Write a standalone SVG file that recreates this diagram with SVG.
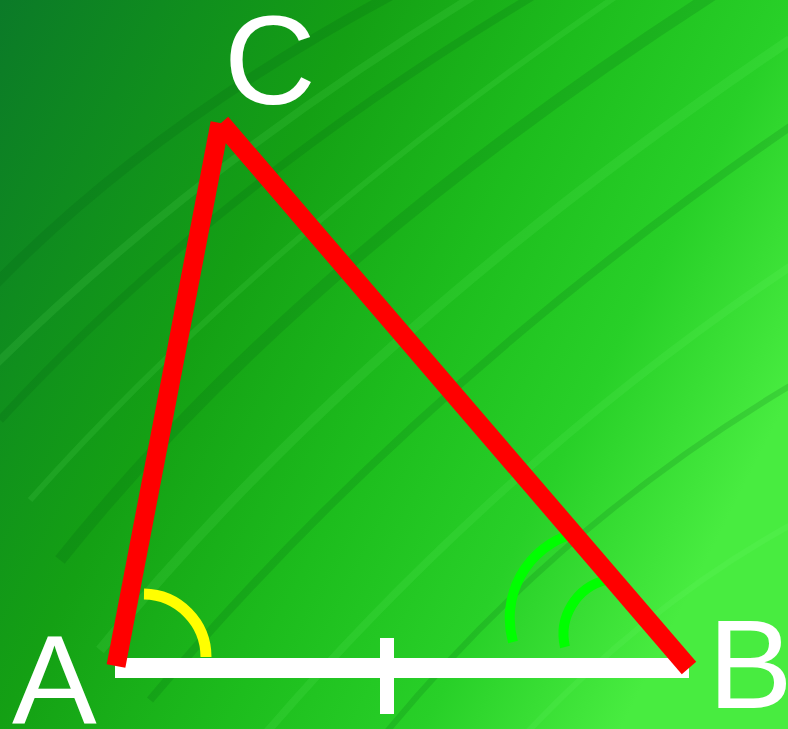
<svg xmlns="http://www.w3.org/2000/svg" width="788" height="729" viewBox="0 0 788 729">
  <defs>
    <linearGradient id="bg" x1="0" y1="0" x2="788" y2="400" gradientUnits="userSpaceOnUse">
      <stop offset="0" stop-color="#0b7a28"/>
      <stop offset="0.37" stop-color="#14a014"/>
      <stop offset="0.6" stop-color="#1dbd1d"/>
      <stop offset="0.8" stop-color="#28d028"/>
      <stop offset="1" stop-color="#48ec40"/>
    </linearGradient>
    <style>
      .streak-d { fill: none; stroke: #005a10; stroke-opacity: 0.16; }
      .streak-l { fill: none; stroke: #80ff80; stroke-opacity: 0.11; }
      .side { stroke: #ff0000; stroke-width: 19; stroke-linecap: butt; fill: none; }
      .base { fill: #ffffff; }
      .angA { fill: none; stroke: #ffff00; stroke-width: 11; }
      .angB { fill: none; stroke: #00ff00; stroke-width: 10; }
      .lbl { font-family: "Liberation Sans", Arial, sans-serif; font-size: 127px; fill: #ffffff; }
    </style>
  </defs>

  <rect x="0" y="0" width="788" height="729" fill="url(#bg)"/>
  <g id="texture">
    <path class="streak-d" stroke-width="10" d="M-20,300 Q150,120 420,-20"/>
    <path class="streak-d" stroke-width="8" d="M0,420 Q220,180 560,-20"/>
    <path class="streak-d" stroke-width="12" d="M60,560 Q300,260 720,-10"/>
    <path class="streak-d" stroke-width="8" d="M150,700 Q420,380 800,120"/>
    <path class="streak-d" stroke-width="6" d="M380,740 Q560,520 800,380"/>
    <path class="streak-l" stroke-width="8" d="M-20,380 Q200,160 500,-20"/>
    <path class="streak-l" stroke-width="6" d="M30,500 Q270,230 640,-20"/>
    <path class="streak-l" stroke-width="10" d="M100,650 Q360,330 790,40"/>
    <path class="streak-l" stroke-width="8" d="M260,740 Q500,460 800,260"/>
    <path class="streak-l" stroke-width="6" d="M520,740 Q650,600 800,520"/>
  </g>

  <g id="angle-marks">
    <path class="angA" d="M144,594 A63,63 0 0,1 206,657"/>
    <path class="angB" d="M513,642 A88,88 0 0,1 572,534"/>
    <path class="angB" d="M565,647 A56,56 0 0,1 606,580"/>
  </g>

  <g id="connectors">
    <rect id="AB" class="base" x="115" y="658" width="574" height="20"/>
    <rect id="tick" class="base" x="380" y="638" width="14" height="76"/>
    <line id="AC" class="side" x1="116" y1="666" x2="220" y2="123"/>
    <line id="CB" class="side" x1="221" y1="123" x2="689" y2="668"/>
  </g>

  <g id="node-A"><text class="lbl" x="12" y="723">A</text></g>
  <g id="node-B"><text class="lbl" x="708" y="708">B</text></g>
  <g id="node-C"><text class="lbl" x="224" y="104">C</text></g>
</svg>
